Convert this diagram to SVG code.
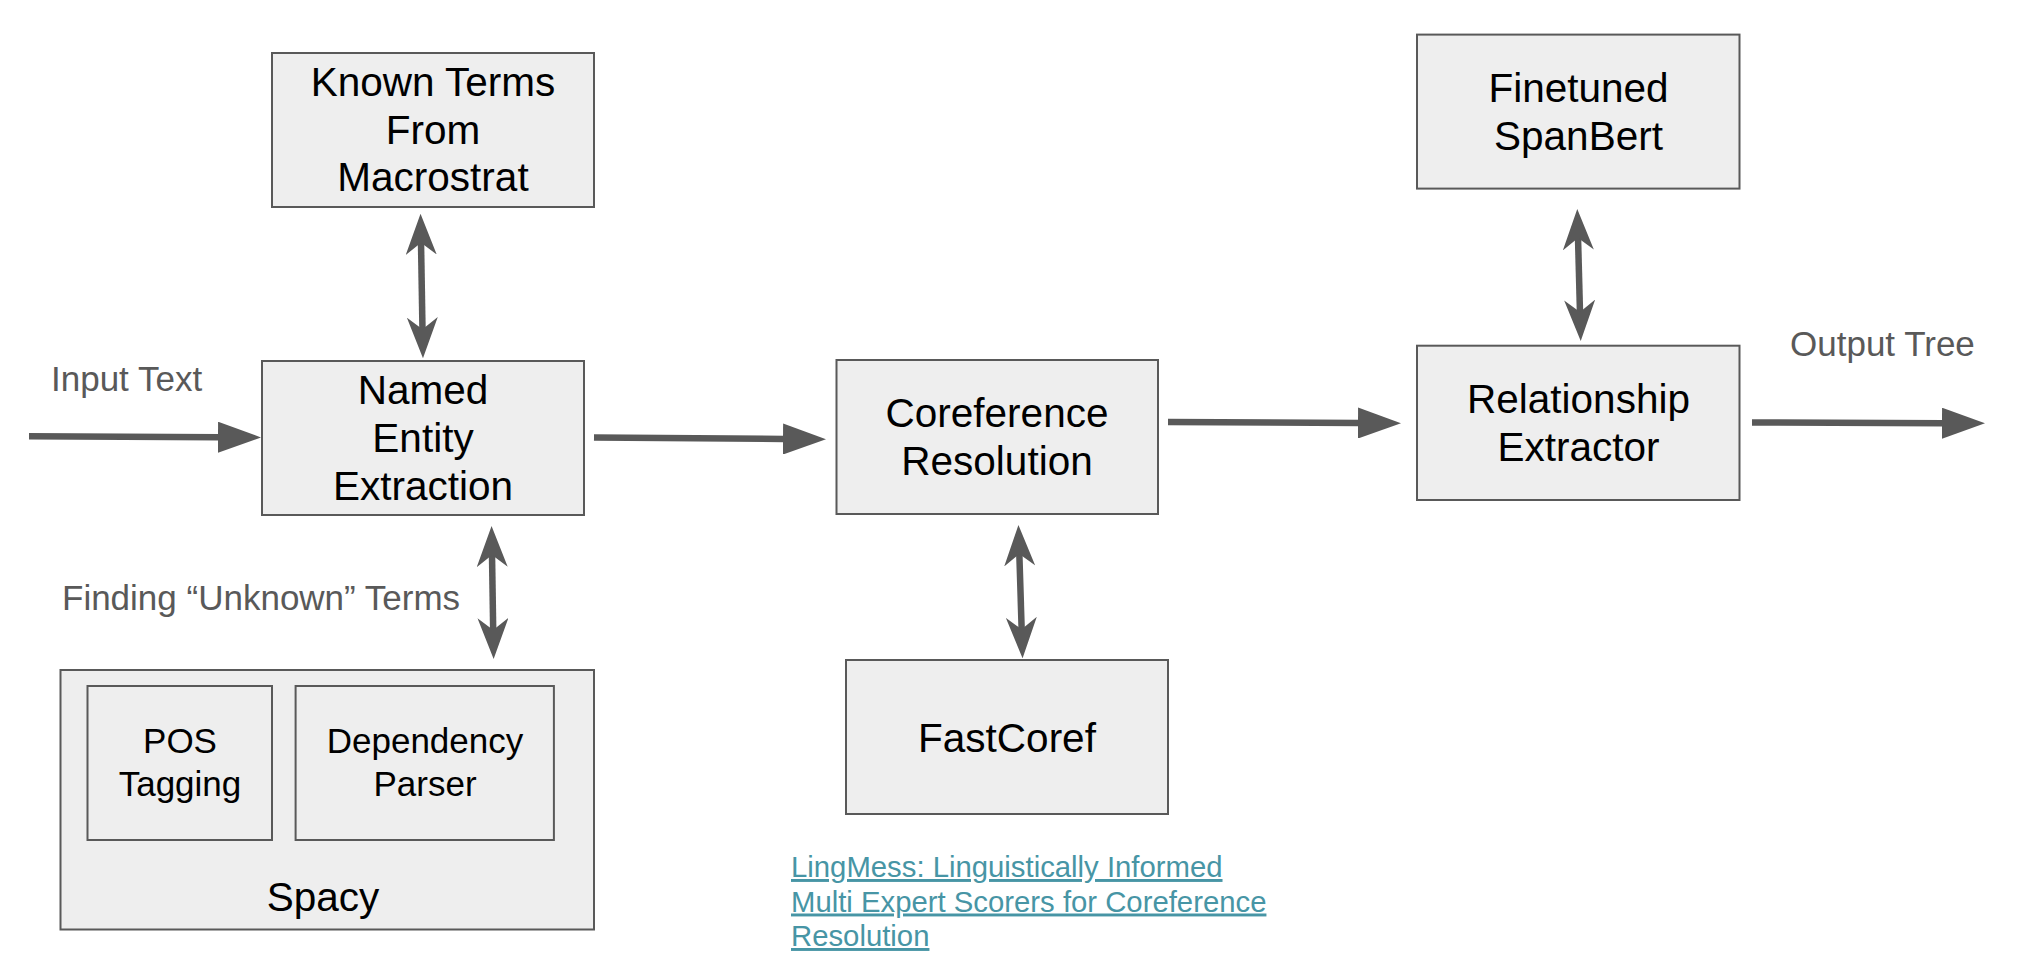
<svg xmlns="http://www.w3.org/2000/svg" width="2022" height="976" viewBox="0 0 2022 976">
<style>
.box{fill:#eeeeee;stroke:#595959;stroke-width:2}
.t{font-family:"Liberation Sans",Arial,sans-serif;font-size:40.5px;fill:#000;text-anchor:middle}
.s{font-family:"Liberation Sans",Arial,sans-serif;font-size:35px;fill:#000;text-anchor:middle}
.lbl{font-family:"Liberation Sans",Arial,sans-serif;font-size:35px;fill:#595959}
.link{font-family:"Liberation Sans",Arial,sans-serif;font-size:29.3px;fill:#4795a5;text-decoration:underline}
.arr{stroke:#595959;stroke-width:6.5;fill:none}
.one{marker-end:url(#tri)}
.two{marker-start:url(#stealth);marker-end:url(#stealth)}
</style>
<defs>
<marker id="tri" viewBox="0 0 43 31" refX="1" refY="15.5" markerWidth="43" markerHeight="31" markerUnits="userSpaceOnUse" orient="auto">
<path d="M0,0 L43,15.5 L0,31 Z" fill="#595959"/>
</marker>
<marker id="stealth" viewBox="0 0 41 31" refX="13" refY="15.5" markerWidth="41" markerHeight="31" markerUnits="userSpaceOnUse" orient="auto-start-reverse">
<path d="M41,15.5 L0,0 L12,15.5 L0,31 Z" fill="#595959"/>
</marker>
</defs>
<rect width="2022" height="976" fill="#ffffff"/>

<g id="connectors">
<path class="arr one" d="M29,436.3 L219,437.2"/>
<path class="arr one" d="M594,437.5 L784,439"/>
<path class="arr one" d="M1168,422 L1359,423"/>
<path class="arr one" d="M1752,422.5 L1943,423.2"/>
<path class="arr two" d="M421,241.7 L422.5,330.3"/>
<path class="arr two" d="M1578,237 L1580,313"/>
<path class="arr two" d="M492,554 L493.2,631"/>
<path class="arr two" d="M1019.3,553 L1021.7,630.3"/>
</g>

<g id="labels">
<text class="lbl" x="51" y="391">Input Text</text>
<text class="lbl" x="1790" y="356">Output Tree</text>
<text class="lbl" x="62" y="610">Finding “Unknown” Terms</text>
</g>

<g id="known-terms">
<rect class="box" x="272" y="53" width="322" height="154"/>
<text class="t" x="433" y="96">Known Terms</text>
<text class="t" x="433" y="143.5">From</text>
<text class="t" x="433" y="191">Macrostrat</text>
</g>

<g id="named-entity">
<rect class="box" x="262" y="361" width="322" height="154"/>
<text class="t" x="423" y="404">Named</text>
<text class="t" x="423" y="451.5">Entity</text>
<text class="t" x="423" y="499.5">Extraction</text>
</g>

<g id="coreference">
<rect class="box" x="836.5" y="360" width="321.5" height="154"/>
<text class="t" x="997" y="426.5">Coreference</text>
<text class="t" x="997" y="474.5">Resolution</text>
</g>

<g id="fastcoref">
<rect class="box" x="846" y="660" width="322" height="154"/>
<text class="t" x="1007" y="752">FastCoref</text>
</g>

<g id="finetuned">
<rect class="box" x="1417" y="34.6" width="322.5" height="154"/>
<text class="t" x="1578.5" y="102">Finetuned</text>
<text class="t" x="1578.5" y="150">SpanBert</text>
</g>

<g id="relationship">
<rect class="box" x="1417" y="345.7" width="322.5" height="154.3"/>
<text class="t" x="1578.5" y="412.5">Relationship</text>
<text class="t" x="1578.5" y="460.5">Extractor</text>
</g>

<g id="spacy">
<rect class="box" x="60.5" y="670" width="533.5" height="259.5"/>
<text class="t" x="323" y="911">Spacy</text>
</g>

<g id="pos-tagging">
<rect class="box" x="87.5" y="686" width="184.5" height="154"/>
<text class="s" x="180" y="753">POS</text>
<text class="s" x="180" y="796">Tagging</text>
</g>

<g id="dependency-parser">
<rect class="box" x="295.6" y="686" width="258.3" height="154"/>
<text class="s" x="425" y="753">Dependency</text>
<text class="s" x="425" y="796">Parser</text>
</g>

<g id="reference-link">
<text class="link" x="791" y="877">LingMess: Linguistically Informed</text>
<text class="link" x="791" y="911.5">Multi Expert Scorers for Coreference</text>
<text class="link" x="791" y="946">Resolution</text>
</g>
</svg>
